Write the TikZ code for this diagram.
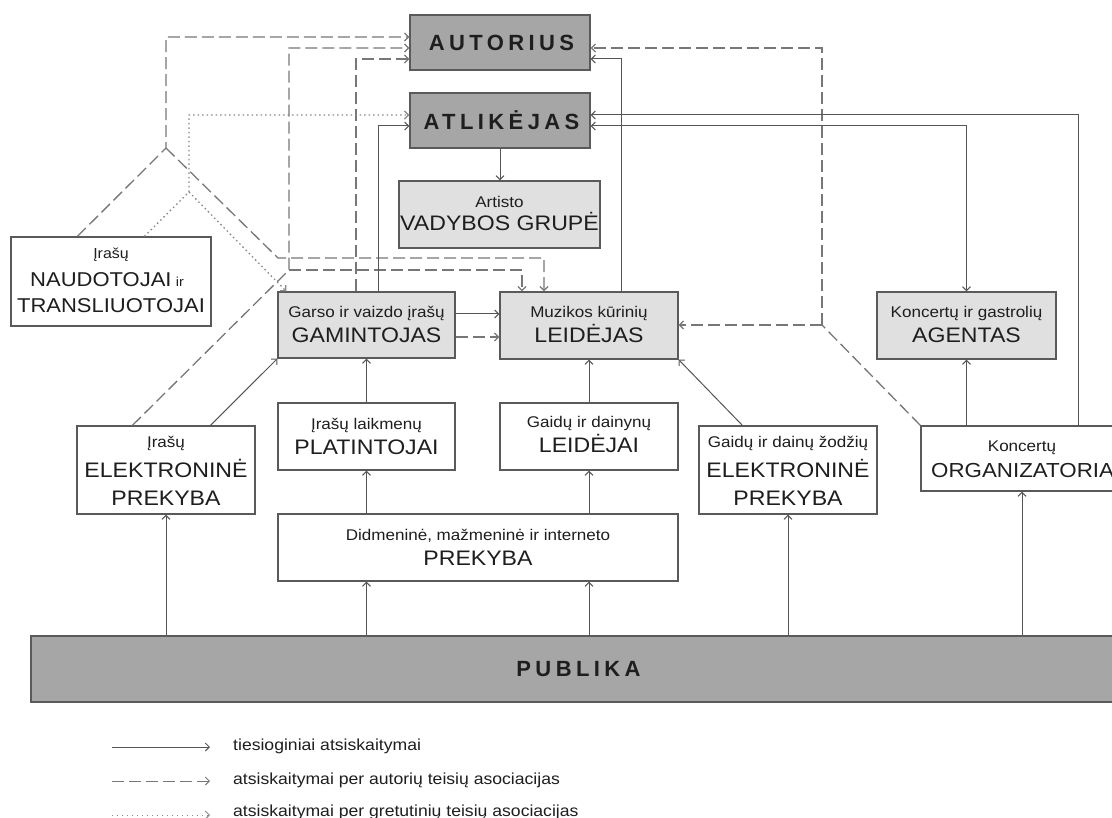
\documentclass[tikz,border=0pt]{standalone}
\usepackage{fontspec}
\setmainfont{Liberation Sans}[FakeStretch=1.1]
\newfontfamily\spcfont{Liberation Sans}[LetterSpace=20]
\usetikzlibrary{arrows.meta,calc}
\definecolor{darkg}{HTML}{A6A6A6}
\definecolor{lightg}{HTML}{E0E0E0}
\definecolor{bordc}{HTML}{5A5A5A}
\definecolor{linec}{HTML}{555555}
\definecolor{dashc}{HTML}{777777}
\definecolor{dotc}{HTML}{888888}
\definecolor{txtc}{HTML}{1E1E1E}
\tikzset{
  box/.style={draw=bordc, line width=1.2pt, rectangle, inner sep=0pt, text=txtc},
  darkbox/.style={box, fill=darkg},
  lightbox/.style={box, fill=lightg},
  whitebox/.style={box, fill=white},
  smtxt/.style={font=\fontsize{15.5}{18}\selectfont, text=txtc, anchor=base, inner sep=0pt},
  bgtxt/.style={font=\fontsize{21}{24}\selectfont, text=txtc, anchor=base, inner sep=0pt},
  lgtxt/.style={font=\fontsize{16}{18}\selectfont, text=txtc, anchor=base west, inner sep=0pt},
  sptxt/.style={font=\spcfont\bfseries\fontsize{22}{26}\selectfont},
  tip/.style={-{Straight Barb[length=4pt,width=8pt]}},
  conn/.style={draw=linec, line width=1pt},
  dsh/.style={draw=dashc, line width=1.3pt, dash pattern=on 12pt off 5pt},
  dtt/.style={draw=dotc, line width=1.3pt, dash pattern=on 1.5pt off 3pt},
}
\begin{document}
\begin{tikzpicture}[x=1pt,y=-1pt]
\useasboundingbox (0,0) rectangle (1112,818);
\clip (0,0) rectangle (1112,818);

% boxes
\node[darkbox, minimum width=180pt, minimum height=55pt, sptxt] (aut) at (500,42.5) {\kern3pt AUTORIUS};
\node[darkbox, minimum width=180pt, minimum height=55pt, sptxt] (atl) at (500,120.5) {\kern3pt ATLIKĖJAS};
\node[lightbox, minimum width=201pt, minimum height=67pt] (vad) at (499.5,214.5) {};
\node[whitebox, minimum width=200pt, minimum height=89pt] (nau) at (111,281.5) {};
\node[lightbox, minimum width=177pt, minimum height=66pt] (gam) at (366.5,325) {};
\node[lightbox, minimum width=178pt, minimum height=67pt] (lei) at (589,325.5) {};
\node[lightbox, minimum width=179pt, minimum height=67pt] (age) at (966.5,325.5) {};
\node[whitebox, minimum width=178pt, minimum height=88pt] (ele1) at (166,470) {};
\node[whitebox, minimum width=177pt, minimum height=67pt] (pla) at (366.5,436.5) {};
\node[whitebox, minimum width=178pt, minimum height=67pt] (lej) at (589,436.5) {};
\node[whitebox, minimum width=178pt, minimum height=88pt] (ele2) at (788,470) {};
\node[whitebox, minimum width=202pt, minimum height=65pt] (org) at (1022,458.5) {};
\node[whitebox, minimum width=400pt, minimum height=67pt] (pre) at (478,547.5) {};
\node[darkbox, minimum width=1092pt, minimum height=66pt, sptxt] (pub) at (577,669) {\kern3pt PUBLIKA};

% texts
\node[smtxt] (vadA) at (499.5,208) {Artisto};
\node[bgtxt] (vadB) at (499.5,231) {VADYBOS GRUPĖ};
\node[smtxt, font=\fontsize{14.5}{17}\selectfont] (nauA) at (111,259) {Įrašų};
\node[bgtxt, font=\fontsize{20}{24}\selectfont, anchor=base west] (nauB) at (30,287) {NAUDOTOJAI};
\node[smtxt, font=\fontsize{13}{15}\selectfont, anchor=base west] (nauBi) at ([xshift=4pt]nauB.base east) {ir};
\node[bgtxt, font=\fontsize{20}{24}\selectfont] (nauC) at (111,313) {TRANSLIUOTOJAI};
\node[smtxt] (gamA) at (366.5,318) {Garso ir vaizdo įrašų};
\node[bgtxt] (gamB) at (366.5,343) {GAMINTOJAS};
\node[smtxt] (leiA) at (589,318) {Muzikos kūrinių};
\node[bgtxt] (leiB) at (589,343) {LEIDĖJAS};
\node[smtxt] (ageA) at (966.5,318) {Koncertų ir gastrolių};
\node[bgtxt] (ageB) at (966.5,343) {AGENTAS};
\node[smtxt] (ele1A) at (166,448) {Įrašų};
\node[bgtxt] (ele1B) at (166,477) {ELEKTRONINĖ};
\node[bgtxt] (ele1C) at (166,505) {PREKYBA};
\node[smtxt] (plaA) at (366.5,429) {Įrašų laikmenų};
\node[bgtxt] (plaB) at (366.5,454) {PLATINTOJAI};
\node[smtxt] (lejA) at (589,428) {Gaidų ir dainynų};
\node[bgtxt] (lejB) at (589,453) {LEIDĖJAI};
\node[smtxt] (ele2A) at (788,448) {Gaidų ir dainų žodžių};
\node[bgtxt] (ele2B) at (788,477) {ELEKTRONINĖ};
\node[bgtxt] (ele2C) at (788,505) {PREKYBA};
\node[smtxt] (orgA) at (1022,452) {Koncertų};
\node[bgtxt, font=\fontsize{20.3}{24}\selectfont, anchor=base west] (orgB) at (931,477) {ORGANIZATORIA};
\node[smtxt] (preA) at (478,540) {Didmeninė, mažmeninė ir interneto};
\node[bgtxt] (preB) at (478,565) {PREKYBA};

% junction coordinates
\coordinate (jA) at (166,148);
\coordinate (kA) at (278,258);
\coordinate (jB) at (289,270);
\coordinate (jC) at (189,192);
\coordinate (jD) at (822,325);

% dashed connectors (authors' rights associations)
\draw[dsh, tip] ([xshift=67pt]nau.north west) -- (jA) |- ([yshift=5.5pt]aut.west);
\draw[dsh, tip] (jA) -- (kA) -| ([xshift=-45pt]lei.north);
\draw[dsh, tip] ([xshift=56pt]ele1.north west) -- (jB) |- ([yshift=-5.5pt]aut.west);
\draw[dsh, tip] (jB) -| ([xshift=-67pt]lei.north);
\draw[dsh, tip] ([xshift=-10.5pt]gam.north) |- ([yshift=-16.5pt]aut.west);
\draw[dsh, tip] ([yshift=-12pt]gam.east) -- ([yshift=-11.5pt]lei.west);
\draw[dsh] (org.north west) -- (jD);
\draw[dsh, tip] (jD) |- ([yshift=-5.5pt]aut.east);
\draw[dsh, tip] (jD) -- (lei.east |- jD);

% dotted connectors (related rights associations)
\draw[dtt, tip] ([xshift=134pt]nau.north west) -- (jC) |- ([yshift=5.5pt]atl.west);
\draw[dtt, tip] (jC) -- ([xshift=9pt]gam.north west);

% solid connectors (direct payments)
\draw[conn, tip] (atl.south) -- (atl.south |- vad.north);
\draw[conn, tip] ([xshift=11.5pt]gam.north) |- ([yshift=-5.5pt]atl.west);
\draw[conn, tip] ([xshift=32pt]lei.north) |- ([yshift=-16.5pt]aut.east);
\draw[conn, tip] ([xshift=56pt]org.north) |- ([yshift=5.5pt]atl.east);
\draw[conn, {Straight Barb[length=4pt,width=8pt]}-{Straight Barb[length=4pt,width=8pt]}] ([yshift=-5.5pt]atl.east) -| (age.north);
\draw[conn, tip] (age.south |- org.north) -- (age.south);
\draw[conn, tip] ([yshift=11pt]gam.east) -- ([yshift=11.5pt]lei.west);
\draw[conn, tip] ([xshift=134pt]ele1.north west) -- (gam.south west);
\draw[conn, tip] ([xshift=44pt]ele2.north west) -- (lei.south east);
\draw[conn, tip] (pla.north) -- (gam.south);
\draw[conn, tip] (lej.north) -- (lei.south);
\draw[conn, tip] (pla.south |- pre.north) -- (pla.south);
\draw[conn, tip] (lej.south |- pre.north) -- (lej.south);
\draw[conn, tip] (ele1.south |- pub.north) -- (ele1.south);
\draw[conn, tip] (pla.south |- pub.north) -- (pla.south |- pre.south);
\draw[conn, tip] (lej.south |- pub.north) -- (lej.south |- pre.south);
\draw[conn, tip] (ele2.south |- pub.north) -- (ele2.south);
\draw[conn, tip] (org.south |- pub.north) -- (org.south);

% legend
\coordinate (l1a) at (112,747); \coordinate (l1b) at (210,747);
\coordinate (l2a) at (112,781); \coordinate (l2b) at (210,781);
\coordinate (l3a) at (112,815); \coordinate (l3b) at (210,815);
\draw[conn, tip] (l1a) -- (l1b);
\draw[dsh, line width=1pt, tip] (l2a) -- (l2b);
\draw[dtt, line width=1pt, dash pattern=on 1pt off 4pt, tip] (l3a) -- (l3b);
\node[lgtxt] (lg1) at (233,750) {tiesioginiai atsiskaitymai};
\node[lgtxt] (lg2) at (233,784) {atsiskaitymai per autorių teisių asociacijas};
\node[lgtxt] (lg3) at (233,816) {atsiskaitymai per gretutinių teisių asociacijas};
\end{tikzpicture}
\end{document}
